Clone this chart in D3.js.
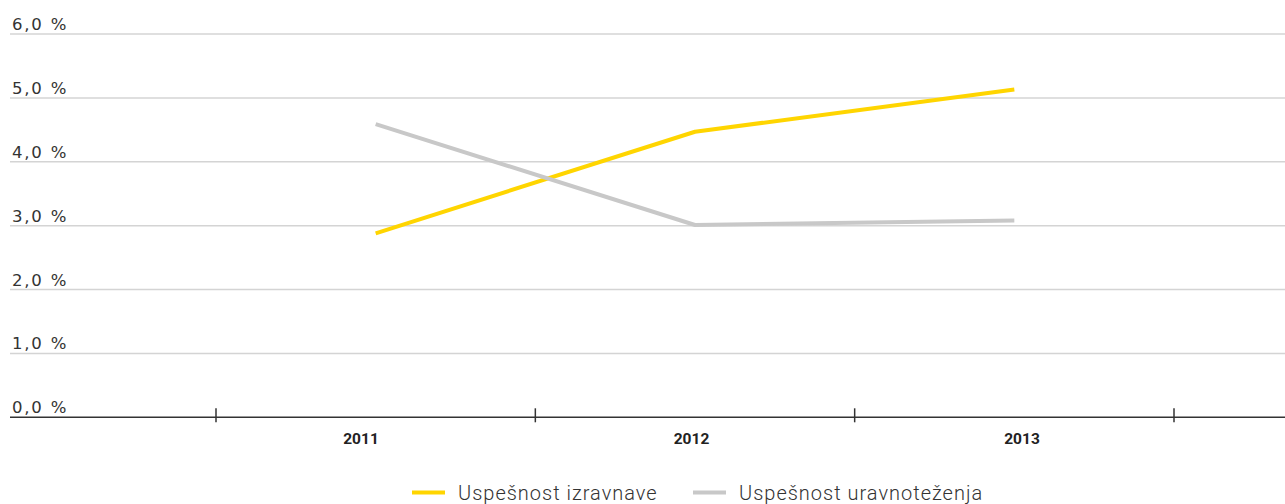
<!DOCTYPE html>
<html><head><meta charset="utf-8">
<script src="https://cdn.jsdelivr.net/npm/d3@7"></script>
<style>body{margin:0;background:#fff;} svg{display:block;}</style>
</head><body>
<svg id="c" width="1285" height="504"></svg>
<script>
const categories = ["2011", "2012", "2013"];
const seriesNames = ["Uspešnost izravnave", "Uspešnost uravnoteženja"];
const izravnave = [2.88, 4.47, 5.13];
const uravnotezenja = [4.59, 3.01, 3.08];
const yTicks = [0, 1, 2, 3, 4, 5, 6];
const colors = ["#ffd500", "#c8c8c8"];

const svg = d3.select("#c");
const W = 1285;
const x = d3.scaleBand().domain(categories).range([216, 1174]);
const xLab = d3.scalePoint().domain(categories).range([361, 1022]);
const y = d3.scaleLinear().domain([0, 6]).range([417.3, 34]);
const fmt = v => d3.format(".1f")(v).replace(".", ",") + " %";

// gridlines
svg.append("g").selectAll("line").data(yTicks.filter(d => d > 0)).join("line")
  .attr("x1", 10).attr("x2", W).attr("y1", d => y(d)).attr("y2", d => y(d))
  .attr("stroke", "#d4d4d4").attr("stroke-width", 1.5);

// y labels
svg.append("g").selectAll("text").data(yTicks).join("text")
  .attr("x", 12).attr("y", d => y(d) - 4)
  .attr("font-family", "DejaVu Sans").attr("font-size", 16.5).attr("letter-spacing", 1.8)
  .attr("fill", "#333").text(fmt);

// x axis line
svg.append("line").attr("x1", 10).attr("x2", W).attr("y1", y(0)).attr("y2", y(0))
  .attr("stroke", "#333").attr("stroke-width", 1.5);
const bounds = categories.map(c => x(c)).concat([x(categories[categories.length - 1]) + x.bandwidth()]);
svg.append("g").selectAll("line").data(bounds).join("line")
  .attr("x1", d => d).attr("x2", d => d).attr("y1", y(0) - 9).attr("y2", y(0) + 5)
  .attr("stroke", "#333").attr("stroke-width", 1.5);

// x labels
svg.append("g").selectAll("text").data(categories).join("text")
  .attr("x", d => xLab(d)).attr("y", 444).attr("text-anchor", "middle")
  .attr("font-family", "Roboto").attr("font-weight", "bold").attr("font-size", 15.5)
  .attr("fill", "#222").text(d => d);

// lines
const line = d3.line().x((d, i) => x(categories[i]) + x.bandwidth() / 2).y(d => y(d));
[izravnave, uravnotezenja].forEach((s, i) => {
  svg.append("path").datum(s).attr("d", line).attr("fill", "none")
    .attr("stroke", colors[i]).attr("stroke-width", 4).attr("stroke-linejoin", "round");
});

// legend
const legX = [412, 693];
seriesNames.forEach((n, i) => {
  svg.append("line").attr("x1", legX[i]).attr("x2", legX[i] + 33).attr("y1", 492.5).attr("y2", 492.5)
    .attr("stroke", colors[i]).attr("stroke-width", 4);
  svg.append("text").attr("x", legX[i] + 46).attr("y", 499.5)
    .attr("font-family", "Roboto").attr("font-weight", 300).attr("font-size", 20).attr("letter-spacing", 1)
    .attr("fill", "#333").text(n);
});
</script>
</body></html>
